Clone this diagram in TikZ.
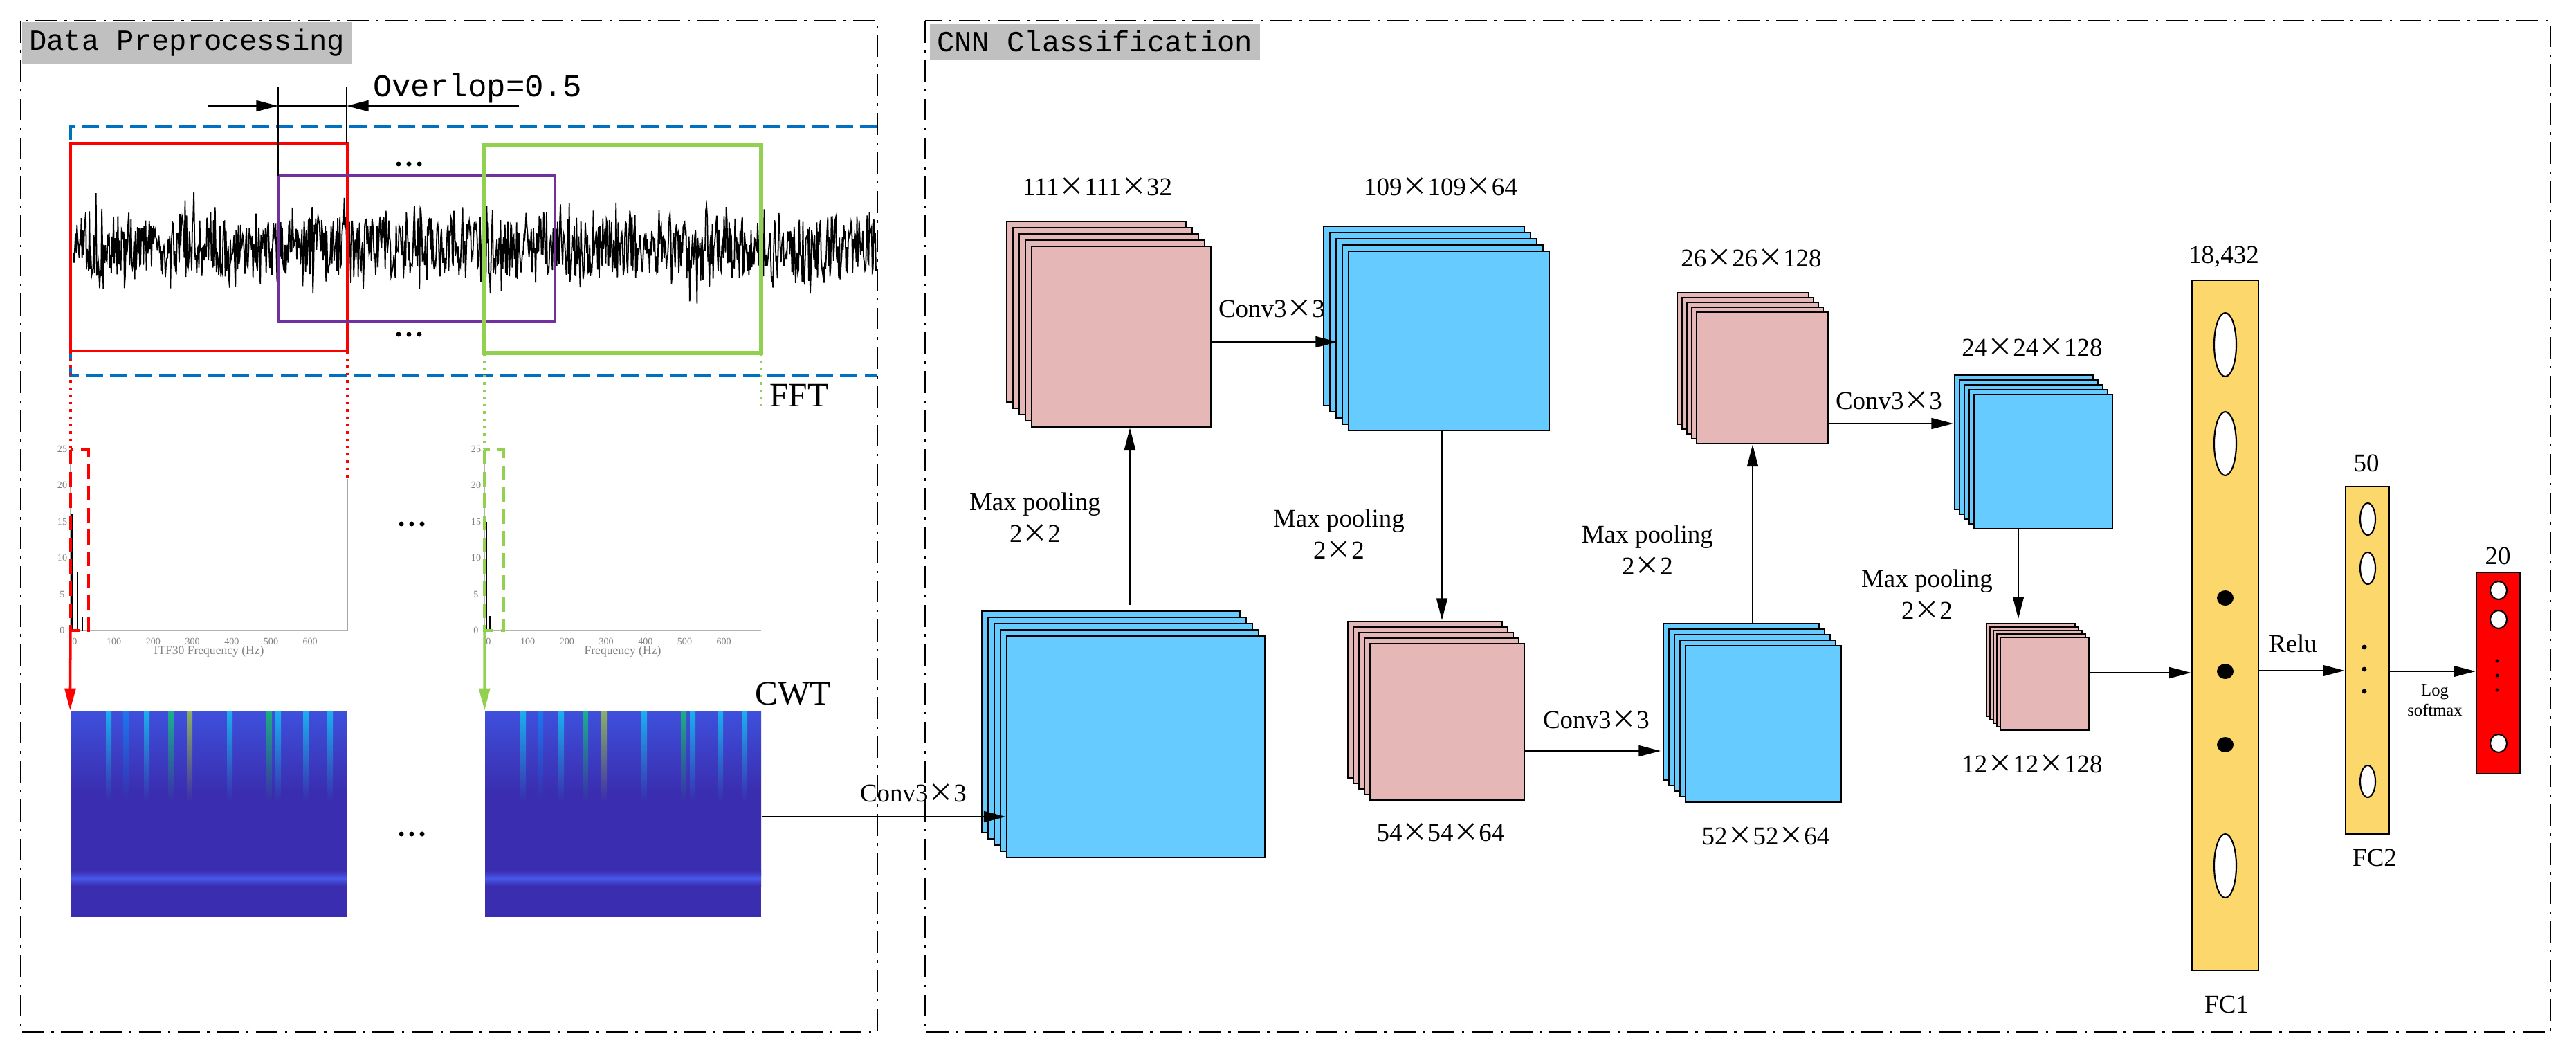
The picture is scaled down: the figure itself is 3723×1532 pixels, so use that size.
\documentclass[tikz,border=0pt]{standalone}
\usepackage{fontspec}
\setmainfont{Liberation Serif}
\newfontfamily\monof{Liberation Mono}
\newfontfamily\cjk{Noto Sans CJK SC}
\usetikzlibrary{arrows.meta,fit,calc}
\newcommand{\tms}{{\cjk ×}}
\definecolor{pinkc}{RGB}{229,184,183}
\definecolor{bluec}{RGB}{102,204,255}
\definecolor{fcy}{RGB}{252,216,108}
\definecolor{dblue}{RGB}{0,112,192}
\definecolor{purp}{RGB}{112,48,160}
\definecolor{grn}{RGB}{146,208,80}
\definecolor{sp1}{RGB}{62,80,220}
\definecolor{sp2}{RGB}{58,45,175}
\definecolor{sp3}{RGB}{72,88,235}
\definecolor{titleg}{RGB}{192,192,192}
\tikzset{
  panel/.style={line width=0.8pt, dash pattern=on 9pt off 3pt on 1pt off 3pt},
  title/.style={fill=titleg, inner sep=3pt, anchor=north west, font=\monof\fontsize{12}{14}\selectfont},
  lbl/.style={font=\fontsize{10.5}{13}\selectfont},
  arr/.style={line width=0.6pt, -{Triangle[length=9pt,width=4.5pt]}},
  layer/.style={draw, line width=0.8pt},
  fc/.style={draw, line width=0.7pt, inner sep=0},
  tick/.style={font=\fontsize{4}{5}\selectfont, text=gray},
}
\newcommand{\stackk}[8]{% name x1 y1 x2 y2 color n offset
  \foreach \k in {#7,...,1}{
    \draw[layer, fill=#6] ({#2-\k*#8},{#3-\k*#8}) rectangle ({#4-\k*#8},{#5-\k*#8});
  }
  \node[layer, fill=#6, fit={(#2,#3)(#4,#5)}, inner sep=0] (#1) {};
}
\newcommand{\dotz}[3]{\node[inner sep=0, minimum width=0.4cm, minimum height=0.1cm] (#1) at (#2,#3) {};
  \foreach \dd in {-15,0,15}{\fill ({#2+\dd},#3) circle (3.5);}}
\begin{document}
\begin{tikzpicture}[x=0.01cm,y=-0.01cm]
\useasboundingbox (0,0) rectangle (3723,1532);
% panels
\draw[panel] (30,30) rectangle (1268,1491);
\draw[panel] (1337,30) rectangle (3686,1491);
\node[title] (t1) at (31,31) {Data Preprocessing};
\node[title] (t2) at (1343,33) {CNN Classification};

% ---- signal
\pgfmathsetmacro{\dummy}{1}
\pgfmathsetseed{7}
\draw[line width=0.5pt] plot[domain=106:1266, samples=1100] (\x,{357+45*rand+60*rand*rand*rand});
\draw[dblue, line width=0.9pt, dash pattern=on 7pt off 3pt] (1268,183) -- (102,183) -- (102,542) -- (1268,542);
\draw[red, line width=1.4pt] (102,207) rectangle (502,507);
\draw[purp, line width=1pt] (402,254) rectangle (802,465);
\draw[grn, line width=1.6pt] (700,209) rectangle (1100,510);
\dotz{d1}{591}{237}
\dotz{d2}{591}{483}

% overlap
\coordinate (ov1) at (402,126); \coordinate (ov1b) at (402,254);
\coordinate (ov2) at (501,126); \coordinate (ov2b) at (501,207);
\draw[line width=0.6pt] (ov1) -- (ov1b);
\draw[line width=0.6pt] (ov2) -- (ov2b);
\coordinate (oa) at (300,153); \coordinate (oa2) at (402,153);
\coordinate (ob) at (750,153); \coordinate (ob2) at (501,153);
\draw[arr] (oa) -- (oa2);
\draw[arr] (ob) -- (ob2);
\draw[line width=0.6pt] (oa2) -- (ob2);
\node[font=\monof\fontsize{13}{15}\selectfont] (ovl) at (690,128) {Overlop=0.5};
\node[font=\fontsize{14}{16}\selectfont] (fft) at (1155,571) {FFT};
\node[font=\fontsize{14}{16}\selectfont] (cwt) at (1146,1003) {CWT};

% dotted drops
\draw[red, line width=1pt, dotted] (102,507) -- (102,649);
\draw[red, line width=1pt, dotted] (502,507) -- (502,692);
\draw[grn, line width=1pt, dotted] (700,510) -- (700,649);
\draw[grn, line width=1pt, dotted] (1100,510) -- (1100,593);

% FFT plots
\foreach \ox/\lab in {102/ITF30 Frequency (Hz), 700/Frequency (Hz)}{
  \draw[gray!60, line width=0.3pt] (\ox,911) -- ({\ox+400},911);
  \draw[gray!60, line width=0.3pt] (\ox,911) -- (\ox,649);
  \foreach \v/\yy in {0/911,5/859,10/806,15/754,20/701,25/649}{
    \node[tick] at ({\ox-12},\yy) {\v};
  }
  \foreach \v in {0,100,...,600}{
    \node[tick] at ({\ox+6+\v*0.567},927) {\v};
  }
  \node[tick, font=\fontsize{5}{6}\selectfont] at ({\ox+200},941) {\lab};
}
\draw[gray!70, line width=0.3pt] (502,692) -- (502,911);
\draw[line width=0.3pt] (104,911) -- (104,743) (112,911) -- (112,827) (119,911) -- (119,892);
\draw[line width=0.3pt] (703,911) -- (703,754) (708,911) -- (708,890);
\draw[red, line width=1.2pt, dash pattern=on 6pt off 3pt] (102,650) rectangle (128,911);
\draw[grn, line width=1pt, dash pattern=on 6pt off 3pt] (700,650) rectangle (728,911);
\dotz{d3}{595}{757}

% spectrograms
\foreach \sx/\nm in {102/s1, 701/s2}{
  \shade[top color=sp1, bottom color=sp2, middle color=sp2] (\sx,1027) rectangle ({\sx+399},1265);
  \shade[top color=sp2, bottom color=sp2, middle color=sp3] (\sx,1258) rectangle ({\sx+399},1280);
  \fill[sp2] (\sx,1280) rectangle ({\sx+399},1325);
  \foreach \px/\c in {55/cyan,80/cyan!60!blue,110/cyan,145/green!70!cyan,172/yellow!80!green,230/cyan,287/green!80!cyan,300/cyan,340/cyan,375/cyan}{
    \shade[top color=\c, bottom color=sp2, opacity=0.55] ({\sx+\px-4},1027) rectangle ({\sx+\px+4},1160);
  }
  \node[inner sep=0, fit={(\sx,1027)({\sx+399},1325)}] (\nm) {};
}
\draw[red, line width=1pt, -{Triangle[length=9pt,width=4.5pt]}] (102,911) -- (s1.north west);
\draw[grn, line width=1pt, -{Triangle[length=9pt,width=4.5pt]}] (700,911) -- (s2.north west);
\dotz{d4}{595}{1205}

% ---- CNN
\stackk{A}{1491}{356}{1750}{617}{pinkc}{4}{9}
\stackk{B}{1949}{363}{2239}{622}{bluec}{4}{9}
\stackk{C}{1455}{919}{1828}{1239}{bluec}{4}{9}
\stackk{D}{1980}{930}{2203}{1156}{pinkc}{4}{8}
\stackk{E}{2436}{933}{2661}{1159}{bluec}{4}{8}
\stackk{F}{2452}{451}{2642}{641}{pinkc}{4}{7}
\stackk{G}{2853}{570}{3053}{764}{bluec}{4}{7}
\stackk{H}{2891}{921}{3019}{1055}{pinkc}{4}{5}

\node[lbl] at (1586,270) {111\tms111\tms32};
\node[lbl] at (2082,270) {109\tms109\tms64};
\node[lbl] at (2082,1203) {54\tms54\tms64};
\node[lbl] at (2552,1208) {52\tms52\tms64};
\node[lbl] at (2531,373) {26\tms26\tms128};
\node[lbl] at (2937,502) {24\tms24\tms128};
\node[lbl] at (2937,1104) {12\tms12\tms128};

\coordinate (ya) at (0,1180);
\coordinate (yb) at (0,494);
\coordinate (yc) at (0,1085);
\coordinate (yd) at (0,612);
\coordinate (ye) at (0,972);
\coordinate (yf) at (0,969);
\coordinate (yg) at (0,970);
\coordinate (cA) at (1633,874);
\coordinate (cB) at (2084,896);
\coordinate (cD) at (2400,1085);
\coordinate (cE) at (2533,902);
\coordinate (cF) at (2823,612);
\coordinate (cG) at (2917,894);
\coordinate (cB2) at (1933,494);

\draw[arr] (s2.east |- ya) -- (C.west |- ya);
\node[lbl] at (1320,1146) {Conv3\tms3};
\draw[arr] (cA) -- (A.south -| cA);
\node[lbl, align=center] at (1496,748) {Max pooling\\2\tms2};
\draw[arr] (A.east |- yb) -- (cB2);
\node[lbl] at (1838,446) {Conv3\tms3};
\draw[arr] (B.south -| cB) -- (cB);
\node[lbl, align=center] at (1935,772) {Max pooling\\2\tms2};
\draw[arr] (D.east |- yc) -- (cD);
\node[lbl] at (2307,1040) {Conv3\tms3};
\draw[arr] (cE) -- (F.south -| cE);
\node[lbl, align=center] at (2381,795) {Max pooling\\2\tms2};
\draw[arr] (F.east |- yd) -- (cF);
\node[lbl] at (2730,579) {Conv3\tms3};
\draw[arr] (G.south -| cG) -- (cG);
\node[lbl, align=center] at (2785,859) {Max pooling\\2\tms2};

% FC layers
\node[fc, fill=fcy, fit={(3168,405)(3264,1402)}] (FC1) {};
\node[fc, fill=fcy, fit={(3390,703)(3453,1205)}] (FC2) {};
\node[fc, fill=red, fit={(3579,827)(3642,1118)}] (OUT) {};
\foreach \yy in {498,641,1251}{\draw[fill=white, line width=0.6pt] (3216,\yy) ellipse (16 and 46);}
\foreach \yy in {864,970,1076}{\fill (3216,\yy) ellipse (12 and 11);}
\foreach \yy in {750,821,1129}{\draw[fill=white, line width=0.6pt] (3422,\yy) ellipse (11 and 23);}
\foreach \yy in {935,967,999}{\fill (3417,\yy) circle (3.5);}
\foreach \yy in {853,895,1074}{\draw[fill=white, line width=0.6pt] (3611,\yy) ellipse (12 and 13);}
\foreach \yy in {955,976,997}{\fill (3609,\yy) circle (2.5);}
\node[lbl] at (3214,371) {18,432};
\node[lbl] at (3218,1451) {FC1};
\node[lbl] at (3420,669) {50};
\node[lbl] at (3432,1239) {FC2};
\node[lbl] at (3610,803) {20};
\draw[arr] (H.east |- ye) -- (FC1.west |- ye);
\draw[arr] (FC1.east |- yf) -- (FC2.west |- yf);
\node[lbl] at (3314,930) {Relu};
\draw[arr] (FC2.east |- yg) -- (OUT.west |- yg);
\node[font=\fontsize{7}{8}\selectfont, align=center] at (3519,1012) {Log\\softmax};
\end{tikzpicture}
\end{document}
